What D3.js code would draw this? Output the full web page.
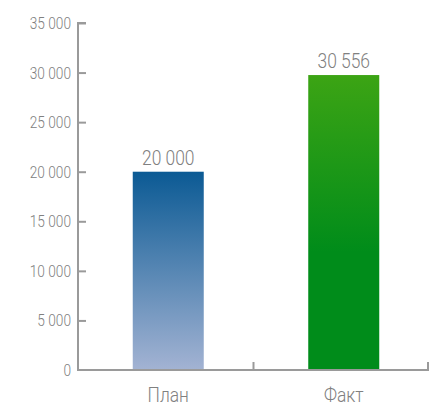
<!DOCTYPE html>
<html><head><meta charset="utf-8">
<script src="https://cdn.jsdelivr.net/npm/d3@7"></script>
<style>
html,body{margin:0;padding:0;background:#fff;}
svg{display:block;}
text{font-family:"Roboto",sans-serif;font-weight:300;fill:#808080;}
</style></head>
<body>
<svg id="chart" width="440" height="411"></svg>
<script>
const categories = ["План", "Факт"];
const values = [20000, 29750];
const valueLabels = ["20 000", "30 556"];
const yTicks = [0, 5000, 10000, 15000, 20000, 25000, 30000, 35000];
const yTickLabels = ["0", "5 000", "10 000", "15 000", "20 000", "25 000", "30 000", "35 000"];
const gradients = [["#0b5a94", "#a3b3d3"], ["#3ca414", "#008c1a"]];

const svg = d3.select("#chart");
const axisColor = "#9a9a9a";
const sx = 0.83;

const y = d3.scaleLinear().domain([0, 35000]).range([370, 23]);
const x = d3.scaleBand().domain(categories).range([78, 429]).paddingInner(0).paddingOuter(0);

const defs = svg.append("defs");
gradients.forEach((g, i) => {
  const lg = defs.append("linearGradient").attr("id", "grad" + i)
    .attr("x1", 0).attr("y1", 0).attr("x2", 0).attr("y2", 1);
  lg.append("stop").attr("offset", "0%").attr("stop-color", g[0]);
  lg.append("stop").attr("offset", i === 1 ? "60%" : "100%").attr("stop-color", g[1]);
  if (i === 1) lg.append("stop").attr("offset", "100%").attr("stop-color", g[1]);
});

// bars
const barW = 71;
const barOffset = 2.5;
svg.selectAll("rect.bar").data(categories).enter().append("rect")
  .attr("class", "bar")
  .attr("x", d => x(d) + x.bandwidth() / 2 - barW / 2 + barOffset)
  .attr("width", barW)
  .attr("y", (d, i) => y(values[i]))
  .attr("height", (d, i) => y(0) - y(values[i]))
  .attr("fill", (d, i) => `url(#grad${i})`);

function narrowText(sel, fx, fy) {
  sel.attr("transform", (d, i) => `translate(${fx(d, i)},${fy(d, i)}) scale(${sx},1)`)
     .attr("x", 0).attr("y", 0);
}

// value labels
svg.selectAll("text.val").data(categories).enter().append("text")
  .attr("class", "val")
  .attr("text-anchor", "middle")
  .attr("font-size", 21)
  .text((d, i) => valueLabels[i])
  .call(narrowText, d => x(d) + x.bandwidth() / 2 + barOffset, (d, i) => y(values[i]) - 7);

// y axis
const yAxis = d3.axisRight(y).tickValues(yTicks).tickSize(8).tickFormat("");
const gy = svg.append("g").attr("transform", "translate(78,0)").call(yAxis);
gy.select(".domain").attr("stroke", axisColor).attr("stroke-width", 2).attr("d", `M8,${y(35000)}H0V${y(0)}`);
gy.selectAll(".tick line").attr("stroke", axisColor).attr("stroke-width", 2);
gy.selectAll(".tick").filter(d => d === 0).select("line").remove();

svg.selectAll("text.ytick").data(yTicks).enter().append("text")
  .attr("class", "ytick")
  .attr("text-anchor", "end")
  .attr("font-size", 16.5)
  .text((d, i) => yTickLabels[i])
  .call(narrowText, () => 71, d => y(d) + 6);

// x axis
const xAxis = d3.axisTop(x).tickSize(0).tickFormat("");
const gx = svg.append("g").attr("transform", `translate(0,${y(0)})`).call(xAxis);
gx.select(".domain").attr("stroke", axisColor).attr("stroke-width", 2).attr("d", `M77,0H429`);
gx.selectAll(".tick").remove();
const bounds = categories.map(c => x(c) + x.bandwidth());
gx.selectAll("line.bnd").data(bounds).enter().append("line")
  .attr("class", "bnd")
  .attr("x1", d => d - (d > 428 ? 1 : 0)).attr("x2", d => d - (d > 428 ? 1 : 0))
  .attr("y1", 0).attr("y2", -8)
  .attr("stroke", axisColor).attr("stroke-width", 2);

svg.selectAll("text.cat").data(categories).enter().append("text")
  .attr("class", "cat")
  .attr("text-anchor", "middle")
  .attr("font-size", 21)
  .text(d => d)
  .call(narrowText, d => x(d) + x.bandwidth() / 2 + barOffset, () => 402);
</script>
</body></html>
